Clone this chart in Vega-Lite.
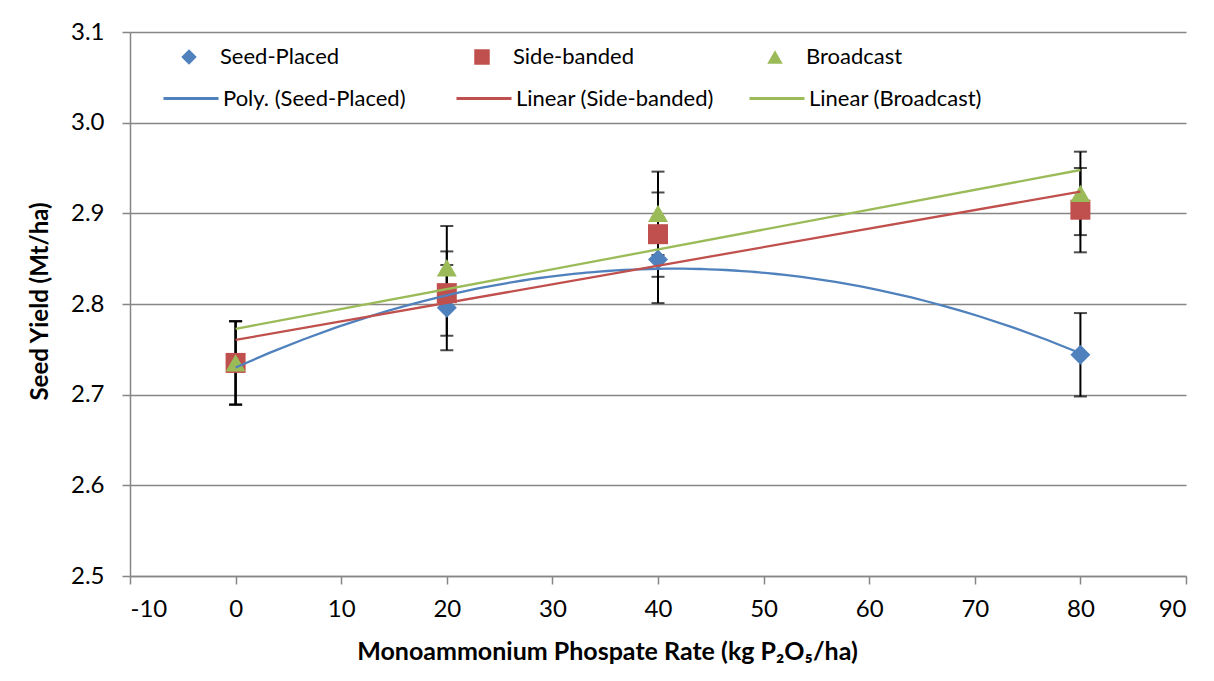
{
  "$schema": "https://vega.github.io/schema/vega-lite/v6.json",
  "autosize": {"type": "none"},
  "width": 1056,
  "height": 544,
  "padding": {"left": 130, "top": 32, "right": 28, "bottom": 105},
  "background": "white",
  "data": {
    "values": [
      {"series": "Seed-Placed", "trend": "Poly. (Seed-Placed)", "rate": 0, "yield": 2.735, "lo": 2.689, "hi": 2.781},
      {"series": "Seed-Placed", "trend": "Poly. (Seed-Placed)", "rate": 20, "yield": 2.796, "lo": 2.749, "hi": 2.843},
      {"series": "Seed-Placed", "trend": "Poly. (Seed-Placed)", "rate": 40, "yield": 2.849, "lo": 2.801, "hi": 2.896},
      {"series": "Seed-Placed", "trend": "Poly. (Seed-Placed)", "rate": 80, "yield": 2.744, "lo": 2.698, "hi": 2.790},
      {"series": "Side-banded", "trend": "Linear (Side-banded)", "rate": 0, "yield": 2.735, "lo": 2.689, "hi": 2.781},
      {"series": "Side-banded", "trend": "Linear (Side-banded)", "rate": 20, "yield": 2.812, "lo": 2.765, "hi": 2.858},
      {"series": "Side-banded", "trend": "Linear (Side-banded)", "rate": 40, "yield": 2.877, "lo": 2.830, "hi": 2.923},
      {"series": "Side-banded", "trend": "Linear (Side-banded)", "rate": 80, "yield": 2.904, "lo": 2.857, "hi": 2.950},
      {"series": "Broadcast", "trend": "Linear (Broadcast)", "rate": 0, "yield": 2.735, "lo": 2.689, "hi": 2.781},
      {"series": "Broadcast", "trend": "Linear (Broadcast)", "rate": 20, "yield": 2.840, "lo": 2.794, "hi": 2.886},
      {"series": "Broadcast", "trend": "Linear (Broadcast)", "rate": 40, "yield": 2.900, "lo": 2.854, "hi": 2.946},
      {"series": "Broadcast", "trend": "Linear (Broadcast)", "rate": 80, "yield": 2.922, "lo": 2.876, "hi": 2.968}
    ]
  },
  "encoding": {
    "x": {
      "field": "rate", "type": "quantitative",
      "scale": {"domain": [-10, 90], "nice": false, "zero": false},
      "axis": {
        "title": "Monoammonium Phospate Rate (kg P₂O₅/ha)",
        "values": [-10, 0, 10, 20, 30, 40, 50, 60, 70, 80, 90],
        "labelExpr": "'' + datum.value",
        "grid": false,
        "labelPadding": 13,
        "titlePadding": 18,
        "titleX": 477
      }
    }
  },
  "resolve": {"scale": {"color": "independent", "shape": "independent"}},
  "layer": [
    {
      "mark": {"type": "rule", "color": "black", "strokeWidth": 2},
      "encoding": {
        "y": {"field": "lo", "type": "quantitative"},
        "y2": {"field": "hi"}
      }
    },
    {
      "mark": {"type": "tick", "orient": "horizontal", "color": "black", "size": 13, "thickness": 2},
      "encoding": {"y": {"field": "lo", "type": "quantitative"}}
    },
    {
      "mark": {"type": "tick", "orient": "horizontal", "color": "black", "size": 13, "thickness": 2},
      "encoding": {"y": {"field": "hi", "type": "quantitative"}}
    },
    {
      "mark": {"type": "point", "filled": true, "opacity": 1, "size": 400},
      "encoding": {
        "y": {
          "field": "yield", "type": "quantitative",
          "scale": {"domain": [2.5, 3.1], "nice": false, "zero": false},
          "axis": {
            "title": "Seed Yield (Mt/ha)",
            "values": [2.5, 2.6, 2.7, 2.8, 2.9, 3.0, 3.1],
            "format": ".1f",
            "grid": true,
            "labelPadding": 18,
            "titlePadding": 18,
            "titleFontSize": 24,
            "titleY": 269
          }
        },
        "color": {
          "field": "series", "type": "nominal",
          "scale": {
            "domain": ["Seed-Placed", "Side-banded", "Broadcast"],
            "range": ["#4F81BD", "#C0504D", "#9BBB59"]
          },
          "legend": {
            "title": null, "orient": "none", "legendX": 33, "legendY": 14,
            "columns": 3, "gridAlign": "all", "columnPadding": 114,
            "symbolSize": 240, "symbolOffset": 15, "labelOffset": 20,
            "symbolStrokeWidth": 0,
            "labelFontSize": 22, "labelFont": "Lato", "labelColor": "black", "labelLimit": 400
          }
        },
        "shape": {
          "field": "series", "type": "nominal",
          "scale": {
            "domain": ["Seed-Placed", "Side-banded", "Broadcast"],
            "range": ["diamond", "square", "triangle-up"]
          },
          "legend": {
            "title": null, "orient": "none", "legendX": 33, "legendY": 14,
            "columns": 3, "gridAlign": "all", "columnPadding": 114,
            "symbolSize": 240, "symbolOffset": 15, "labelOffset": 20,
            "symbolStrokeWidth": 0,
            "labelFontSize": 22, "labelFont": "Lato", "labelColor": "black", "labelLimit": 400
          }
        }
      }
    },
    {
      "encoding": {
        "y": {"field": "yield", "type": "quantitative"},
        "color": {
          "field": "trend", "type": "nominal",
          "scale": {
            "domain": ["Poly. (Seed-Placed)", "Linear (Side-banded)", "Linear (Broadcast)"],
            "range": ["#4F81BD", "#C0504D", "#9BBB59"]
          },
          "legend": {
            "title": null, "orient": "none", "legendX": 32, "legendY": 37.5,
            "columns": 3, "gridAlign": "all", "columnPadding": 29,
            "symbolType": "stroke", "symbolSize": 3025, "symbolOffset": 0, "labelOffset": 3,
            "symbolStrokeWidth": 2.8,
            "labelFontSize": 22, "labelFont": "Lato", "labelColor": "black", "labelLimit": 400
          }
        }
      },
      "layer": [
        {
          "transform": [
            {"filter": "datum.series === 'Seed-Placed'"},
            {"regression": "yield", "on": "rate", "groupby": ["trend"], "method": "poly", "order": 2, "extent": [0, 80]}
          ],
          "mark": {"type": "line", "strokeWidth": 2.3}
        },
        {
          "transform": [
            {"filter": "datum.series !== 'Seed-Placed'"},
            {"regression": "yield", "on": "rate", "groupby": ["trend"], "method": "linear", "extent": [0, 80]}
          ],
          "mark": {"type": "line", "strokeWidth": 2.3}
        }
      ]
    }
  ],
  "config": {
    "font": "Lato",
    "view": {"stroke": null},
    "axis": {
      "domainColor": "#868686",
      "domainWidth": 1.5,
      "tickColor": "#868686",
      "tickWidth": 1.5,
      "tickSize": 8,
      "gridColor": "#868686",
      "gridWidth": 1.5,
      "labelFont": "Lato",
      "labelFontSize": 24,
      "labelColor": "black",
      "titleFont": "Lato",
      "titleFontSize": 25,
      "titleFontWeight": "bold",
      "titleColor": "black"
    }
  }
}
